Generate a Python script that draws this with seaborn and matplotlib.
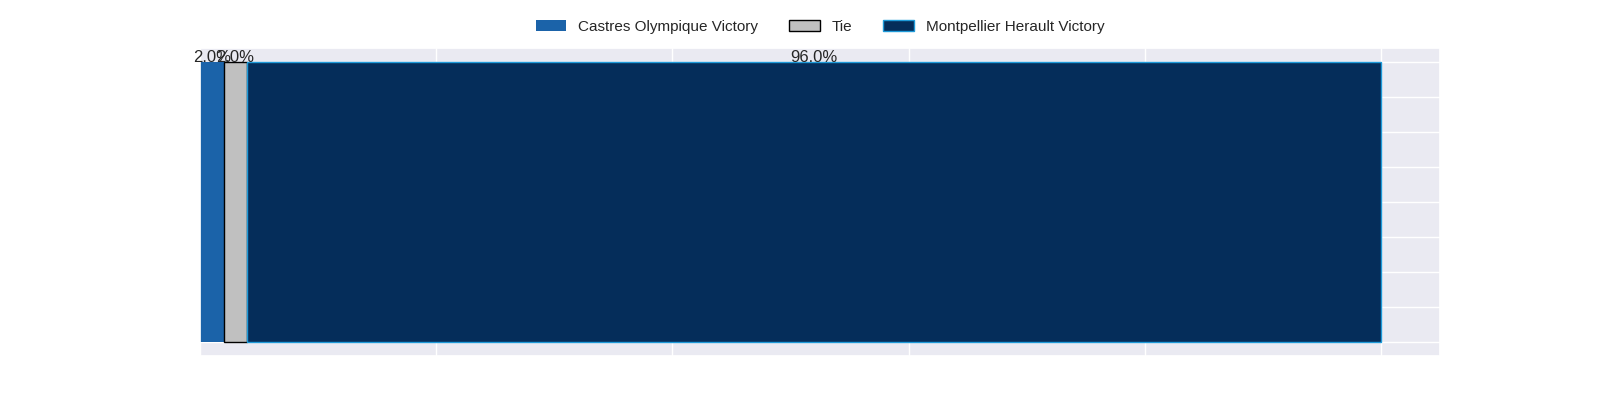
import matplotlib
matplotlib.use("Agg")
import matplotlib.pyplot as plt
import seaborn as sns
from matplotlib.patches import Patch

# Datos del gráfico
categorias = ["Castres Olympique Victory", "Tie", "Montpellier Herault Victory"]
porcentajes = [2.0, 2.0, 96.0]
colores = ["#1b63a9", "#c0c0c0", "#052d5a"]
bordes = ["none", "black", "#1e9ad9"]

sns.set_theme(style="darkgrid")
plt.rcParams['font.family'] = ['Liberation Sans', 'DejaVu Sans']

fig, ax = plt.subplots(figsize=(16, 4), dpi=100)

izquierda = 0
for cat, val, col, borde in zip(categorias, porcentajes, colores, bordes):
    ax.barh(0, val, left=izquierda, height=0.8, color=col, edgecolor=borde,
            linewidth=1, label=cat)
    ax.text(izquierda + val / 2, 0.39, f"{val:.1f}%", ha="center", va="bottom",
            fontsize=12, color="#262626")
    izquierda += val

ax.set_xticklabels([])
ax.set_yticklabels([])
ax.tick_params(length=0)

handles = [Patch(facecolor=c, edgecolor=b, label=l)
           for l, c, b in zip(categorias, colores, bordes)]
ax.legend(handles=handles, loc="upper center", bbox_to_anchor=(0.5, 1.135),
          ncol=3, frameon=False, fontsize=11)

plt.savefig("out.png", dpi=100)
